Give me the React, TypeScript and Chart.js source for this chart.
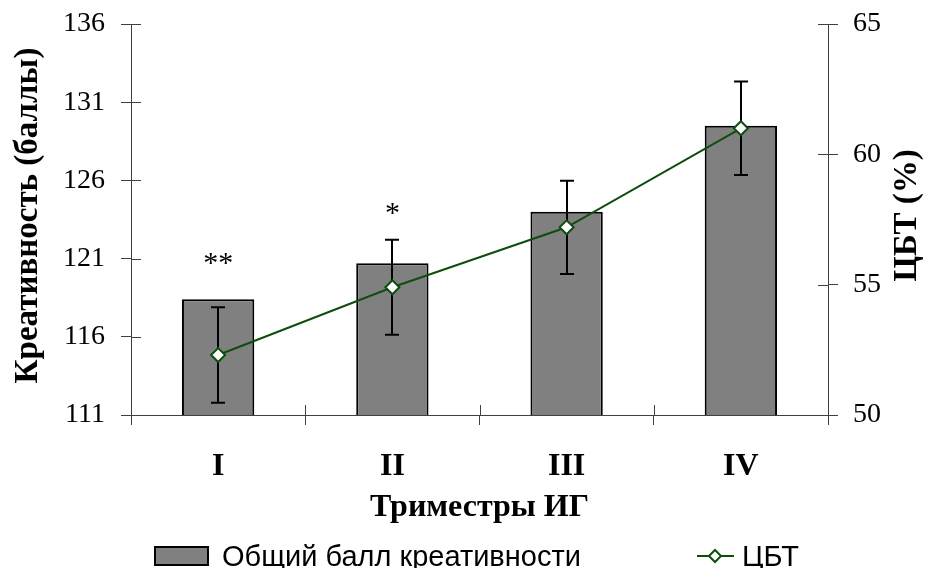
import React, { useEffect, useRef } from "react";
import { Chart, registerables } from "chart.js";

Chart.register(...registerables);

const categories = ["I", "II", "III", "IV"];
const creativityScores = [118.4, 120.7, 124.0, 129.5];
const cbtValues = [52.3, 54.9, 57.2, 61.0];
const cbtErrors = [1.83, 1.82, 1.79, 1.79];
const significanceMarks = ["**", "*", "", ""];
const significanceLevels = [120.9, 124.1, 0, 0];
const leftTicks = [111, 116, 121, 126, 131, 136];
const rightTicks = [50, 55, 60, 65];

const barLabel = "Общий балл креативности";
const lineLabel = "ЦБТ";
const leftTitle = "Креативность (баллы)";
const rightTitle = "ЦБТ (%)";
const xTitle = "Триместры ИГ";

const SERIF = "'Liberation Serif', 'Times New Roman', serif";
const SANS = "'Liberation Sans', Arial, sans-serif";
const GREEN = "#0f4d0f";
const AXIS = "#404040";
const BAR_FILL = "#808080";

const overlayPlugin = {
  id: "overlay",
  afterDatasetDraw(chart: any, args: any) {
    if (args.index !== 0) return;
    const { ctx } = chart;
    const x = chart.scales.x;
    const y1 = chart.scales.y1;
    ctx.save();
    ctx.strokeStyle = "#000";
    ctx.lineWidth = 2;
    cbtValues.forEach((v, i) => {
      const px = Math.round(x.getPixelForValue(i));
      const top = y1.getPixelForValue(v + cbtErrors[i]);
      const bot = y1.getPixelForValue(v - cbtErrors[i]);
      ctx.beginPath();
      ctx.moveTo(px, top);
      ctx.lineTo(px, bot);
      ctx.moveTo(px - 7, top);
      ctx.lineTo(px + 7, top);
      ctx.moveTo(px - 7, bot);
      ctx.lineTo(px + 7, bot);
      ctx.stroke();
    });
    ctx.restore();
  },
  afterDraw(chart: any) {
    const { ctx, chartArea } = chart;
    const x = chart.scales.x;
    const y = chart.scales.y;
    const y1 = chart.scales.y1;
    const midY = (chartArea.top + chartArea.bottom) / 2;
    ctx.save();
    // inward tick marks
    ctx.strokeStyle = AXIS;
    ctx.lineWidth = 1;
    ctx.beginPath();
    y.ticks.forEach((t: any) => {
      const py = Math.round(y.getPixelForValue(t.value)) + 0.5;
      ctx.moveTo(chartArea.left, py);
      ctx.lineTo(chartArea.left + 10, py);
    });
    y1.ticks.forEach((t: any) => {
      const py = Math.round(y1.getPixelForValue(t.value)) + 0.5;
      ctx.moveTo(chartArea.right, py);
      ctx.lineTo(chartArea.right - 10, py);
    });
    for (let i = 1; i < categories.length; i++) {
      const px = Math.round((x.getPixelForValue(i - 1) + x.getPixelForValue(i)) / 2) + 0.5;
      ctx.moveTo(px, chartArea.bottom);
      ctx.lineTo(px, chartArea.bottom - 10);
    }
    ctx.stroke();

    // significance marks
    ctx.fillStyle = "#000";
    ctx.font = `30px ${SERIF}`;
    ctx.textAlign = "center";
    ctx.textBaseline = "alphabetic";
    significanceMarks.forEach((m, i) => {
      if (!m) return;
      const px = x.getPixelForValue(i);
      const py = y.getPixelForValue(significanceLevels[i]);
      ctx.fillText(m, px, py + 12);
    });

    // axis titles (both read bottom to top)
    ctx.font = `bold 33px ${SERIF}`;
    ctx.textAlign = "center";
    ctx.textBaseline = "middle";
    ctx.save();
    ctx.translate(28, midY - 4);
    ctx.rotate(-Math.PI / 2);
    ctx.fillText(leftTitle, 0, 0);
    ctx.restore();
    ctx.save();
    ctx.translate(chart.width - 21, midY - 4);
    ctx.rotate(-Math.PI / 2);
    ctx.fillText(rightTitle, 0, 0);
    ctx.restore();

    // legend
    const ds0 = chart.data.datasets[0];
    const ds1 = chart.data.datasets[1];
    const ly = 556;
    ctx.fillStyle = ds0.backgroundColor;
    ctx.fillRect(155, ly - 9, 53, 18);
    ctx.strokeStyle = "#000";
    ctx.lineWidth = 2;
    ctx.strokeRect(155, ly - 9, 53, 18);
    ctx.fillStyle = "#000";
    ctx.font = `29px ${SANS}`;
    ctx.textAlign = "left";
    ctx.textBaseline = "alphabetic";
    ctx.fillText(ds0.label, 222, 566);

    ctx.strokeStyle = ds1.borderColor;
    ctx.lineWidth = 2;
    ctx.beginPath();
    ctx.moveTo(697, ly);
    ctx.lineTo(734, ly);
    ctx.stroke();
    const dx = 715;
    const r = 6;
    ctx.beginPath();
    ctx.moveTo(dx - r, ly);
    ctx.lineTo(dx, ly - r);
    ctx.lineTo(dx + r, ly);
    ctx.lineTo(dx, ly + r);
    ctx.closePath();
    ctx.fillStyle = "#fff";
    ctx.fill();
    ctx.stroke();
    ctx.fillStyle = "#000";
    ctx.fillText(ds1.label, 742, 566);
    ctx.restore();
  },
};

const zeroPad = (s: any) => {
  s.paddingTop = 0;
  s.paddingBottom = 0;
  s.paddingLeft = 0;
  s.paddingRight = 0;
};

export default function App() {
  const canvasRef = useRef<HTMLCanvasElement | null>(null);

  useEffect(() => {
    if (!canvasRef.current) return;
    const chart = new Chart(canvasRef.current, {
      type: "bar",
      data: {
        labels: categories,
        datasets: [
          {
            type: "bar",
            label: barLabel,
            data: creativityScores,
            yAxisID: "y",
            backgroundColor: BAR_FILL,
            borderColor: "#000",
            borderWidth: 2,
            borderSkipped: false,
            barPercentage: 0.415,
            categoryPercentage: 1,
            order: 2,
          } as any,
          {
            type: "line",
            label: lineLabel,
            data: cbtValues,
            yAxisID: "y1",
            borderColor: GREEN,
            borderWidth: 2,
            tension: 0,
            pointStyle: "rectRot",
            pointRadius: 7,
            pointBackgroundColor: "#fff",
            pointBorderColor: GREEN,
            pointBorderWidth: 2,
            order: 1,
          } as any,
        ],
      },
      options: {
        responsive: false,
        animation: false,
        layout: { padding: { top: 24, left: 0, right: 0, bottom: 0 } },
        plugins: {
          legend: { display: false },
          tooltip: { enabled: false },
        },
        scales: {
          x: {
            type: "category",
            offset: true,
            grid: { offset: true, drawOnChartArea: false, tickLength: 10, color: AXIS, lineWidth: 1 },
            border: { color: AXIS, width: 1 },
            ticks: {
              color: "#000",
              font: { family: SERIF, size: 32, weight: "bold" },
              padding: 23,
              maxRotation: 0,
              autoSkip: false,
            },
            title: {
              display: true,
              text: xTitle,
              color: "#000",
              font: { family: SERIF, size: 32, weight: "bold" },
              padding: { top: 0, bottom: 41 },
            },
            afterFit: (s: any) => {
              zeroPad(s);
              s.height = 153;
            },
          },
          y: {
            type: "linear",
            position: "left",
            min: 111,
            max: 136,
            afterBuildTicks: (s: any) => {
              s.ticks = leftTicks.map((v) => ({ value: v }));
            },
            grid: { drawOnChartArea: false, tickLength: 10, color: AXIS, lineWidth: 1 },
            border: { color: AXIS, width: 1 },
            ticks: {
              color: "#000",
              font: { family: SERIF, size: 28 },
              padding: 16,
            },
            title: { display: false },
            afterFit: (s: any) => {
              zeroPad(s);
              s.width = 131;
            },
          },
          y1: {
            type: "linear",
            position: "right",
            min: 50,
            max: 65,
            afterBuildTicks: (s: any) => {
              s.ticks = rightTicks.map((v) => ({ value: v }));
            },
            grid: { drawOnChartArea: false, tickLength: 10, color: AXIS, lineWidth: 1 },
            border: { color: AXIS, width: 1 },
            ticks: {
              color: "#000",
              font: { family: SERIF, size: 28 },
              padding: 15,
            },
            title: { display: false },
            afterFit: (s: any) => {
              zeroPad(s);
              s.width = 100;
            },
          },
        },
      } as any,
      plugins: [overlayPlugin],
    });
    return () => chart.destroy();
  }, []);

  return (
    <div style={{ position: "fixed", left: 0, top: 0, width: 928, height: 568, background: "#fff" }}>
      <canvas ref={canvasRef} width={928} height={568} style={{ display: "block" }} />
    </div>
  );
}
